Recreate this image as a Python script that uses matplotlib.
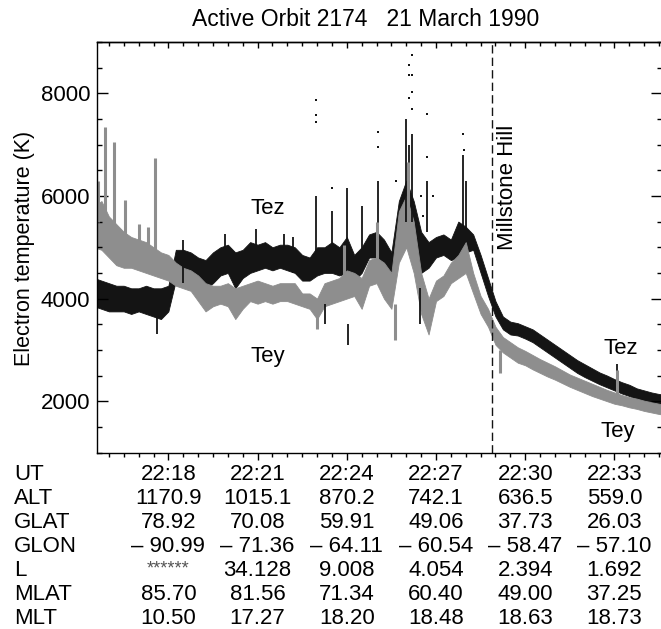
import matplotlib
matplotlib.use("Agg")
import matplotlib.pyplot as plt
from matplotlib.ticker import MultipleLocator
from matplotlib.transforms import blended_transform_factory

plt.rcParams['font.family'] = ['Liberation Sans', 'DejaVu Sans']
plt.rcParams['font.size'] = 16

# UT in minutes after 22:00
ut_min = [15.50, 15.75, 16.00, 16.25, 16.50, 16.75, 17.00, 17.25, 17.50, 17.75,
          18.00, 18.25, 18.50, 18.75, 19.00, 19.25, 19.50, 19.75, 20.00, 20.25,
          20.50, 20.75, 21.00, 21.25, 21.50, 21.75, 22.00, 22.25, 22.50, 22.75,
          23.00, 23.25, 23.50, 23.75, 24.00, 24.25, 24.50, 24.75, 25.00, 25.25,
          25.50, 25.75, 26.00, 26.25, 26.50, 26.75, 27.00, 27.25, 27.50, 27.75,
          28.00, 28.25, 28.50, 28.75, 29.00, 29.25, 29.50, 29.75, 30.00, 30.25,
          30.50, 30.75, 31.00, 31.25, 31.50, 31.75, 32.00, 32.25, 32.50, 32.75,
          33.00, 33.25, 33.50, 33.75, 34.00, 34.25, 34.50, 34.75]

# Tey (grey) scatter band, lower / upper edge (K)
tey_lo = [5000, 4950, 4800, 4650, 4600, 4600, 4550, 4500, 4450, 4400,
          4350, 4250, 4200, 4150, 3950, 3750, 3850, 3900, 3850, 3600,
          3800, 3950, 3900, 3950, 3900, 3950, 3950, 3900, 3850, 3800,
          3600, 3850, 3900, 3950, 4000, 4050, 3800, 4250, 4300, 4000,
          3800, 4700, 5000, 4500, 3700, 3300, 3950, 4050, 4300, 4400,
          4500, 4100, 3700, 3450, 3100, 2950, 2850, 2750, 2700, 2620,
          2550, 2480, 2420, 2350, 2280, 2220, 2160, 2100, 2050, 2000,
          1950, 1920, 1880, 1850, 1810, 1780, 1750, 1730]
tey_hi = [5800, 5900, 5600, 5450, 5300, 5200, 5150, 5100, 5000, 4900,
          4850, 4700, 4600, 4550, 4450, 4300, 4250, 4250, 4300, 4200,
          4250, 4300, 4350, 4300, 4250, 4300, 4300, 4300, 4100, 4100,
          4000, 4300, 4350, 4400, 4550, 4500, 4400, 4750, 4800, 4700,
          4500, 5700, 6000, 5500, 4500, 4000, 4350, 4450, 4700, 4850,
          5100, 4500, 4050, 3800, 3450, 3250, 3150, 3050, 2980, 2900,
          2820, 2750, 2680, 2600, 2520, 2460, 2400, 2340, 2280, 2220,
          2170, 2120, 2080, 2050, 2010, 1980, 1950, 1930]

# Tez (black) scatter band, lower / upper edge (K)
tez_lo = [3850, 3800, 3750, 3750, 3750, 3700, 3750, 3700, 3650, 3600,
          3750, 4350, 4400, 4350, 4300, 4200, 4300, 4450, 4500, 4200,
          4400, 4500, 4550, 4600, 4550, 4600, 4550, 4500, 4350, 4350,
          4450, 4500, 4500, 4450, 4500, 4350, 4500, 4800, 4800, 4650,
          4400, 5000, 5300, 5000, 4500, 4600, 4800, 4850, 4750, 4800,
          4900, 4950, 4500, 4050, 3650, 3400, 3300, 3280, 3220, 3150,
          3050, 2950, 2850, 2750, 2650, 2550, 2470, 2400, 2330, 2270,
          2210, 2150, 2100, 2040, 2000, 1960, 1930, 1910]
tez_hi = [4400, 4350, 4300, 4250, 4250, 4200, 4200, 4250, 4200, 4200,
          4250, 4950, 4950, 4900, 4800, 4750, 4900, 5000, 5050, 4900,
          4950, 5100, 5050, 5100, 5000, 5050, 5050, 5000, 4850, 4800,
          5000, 5000, 5100, 5000, 5200, 4850, 5000, 5250, 5300, 5150,
          4900, 5900, 6300, 5900, 5300, 5100, 5200, 5250, 5150, 5500,
          5400, 5250, 4850, 4400, 3950, 3650, 3550, 3520, 3460, 3400,
          3300, 3200, 3100, 3000, 2900, 2800, 2720, 2640, 2560, 2500,
          2430, 2370, 2320, 2250, 2210, 2170, 2140, 2120]

# short bursts (columns of points)
tez_spike_t = [17.62, 18.50, 19.90, 20.95, 21.90, 22.20, 22.98, 23.26, 23.50,
               24.02, 24.05, 24.50, 25.05, 25.98, 26.08, 26.18, 26.45, 26.70,
               27.90, 28.02, 33.10]
tez_spike_lo = [3300, 4300, 4500, 4600, 4600, 4500, 4800, 3500, 5000,
                5000, 3100, 4900, 5100, 5500, 5800, 5500, 3500, 5300,
                5300, 5200, 2300]
tez_spike_hi = [3800, 5150, 5250, 5350, 5250, 5200, 6000, 3900, 5700,
                6150, 3500, 5800, 6300, 7500, 7000, 7200, 4200, 6300,
                6800, 6300, 2730]
tez_dot_t = [22.98, 22.98, 22.98, 23.50, 25.05, 25.05, 25.67, 26.08, 26.08, 26.08,
             26.19, 26.19, 26.19, 26.19, 26.70, 26.70, 26.90, 27.90, 27.95, 26.50, 26.55]
tez_dot_v = [7870, 7580, 7450, 6150, 7250, 6950, 6300, 8550, 8350, 7900,
             8750, 8350, 8030, 7700, 7600, 6750, 6000, 7200, 6900, 6000, 5600]

tey_spike_t = [15.62, 15.88, 16.18, 16.55, 17.00, 17.30, 17.55, 23.00, 23.90,
               25.00, 25.62, 26.06, 29.15, 33.10]
tey_spike_lo = [5500, 5500, 5300, 5200, 4900, 4900, 4900, 3400, 4300,
                4700, 3200, 5500, 2550, 2100]
tey_spike_hi = [6300, 7350, 7060, 5930, 5450, 5400, 6740, 3800, 5050,
                5500, 3900, 6670, 3000, 2600]

millstone_t = 28.87

# orbit table under the axis
table_t = [18, 21, 24, 27, 30, 33]
row_names = ['UT', 'ALT', 'GLAT', 'GLON', 'L', 'MLAT', 'MLT']
ut_labels = ['22:18', '22:21', '22:24', '22:27', '22:30', '22:33']
alt = ['1170.9', '1015.1', '870.2', '742.1', '636.5', '559.0']
glat = ['78.92', '70.08', '59.91', '49.06', '37.73', '26.03']
glon = ['\u2013 90.99', '\u2013 71.36', '\u2013 64.11', '\u2013 60.54', '\u2013 58.47', '\u2013 57.10']
lshell = ['******', '34.128', '9.008', '4.054', '2.394', '1.692']
mlat = ['85.70', '81.56', '71.34', '60.40', '49.00', '37.25']
mlt = ['10.50', '17.27', '18.20', '18.48', '18.63', '18.73']

black = '#141414'
grey = '#8e8e8e'

W, H = 661, 629
fig = plt.figure(figsize=(W / 100, H / 100), dpi=100)
ax = fig.add_axes([97 / W, 1 - 452.5 / H, 565 / W, 410.5 / H])

ax.fill_between(ut_min, tez_lo, tez_hi, color=black, lw=0.6)
ax.vlines(tez_spike_t, tez_spike_lo, tez_spike_hi, color=black, lw=1.3)
ax.fill_between(ut_min, tey_lo, tey_hi, color=grey, lw=0.6)
ax.vlines(tey_spike_t, tey_spike_lo, tey_spike_hi, color=grey, lw=2.2)
ax.scatter(tez_dot_t, tez_dot_v, s=2.5, marker='s', color=black, lw=0)

ax.axvline(millstone_t, color=black, lw=1.0, linestyle=(0, (6, 3)))
ax.text(millstone_t + 0.52, 6170, 'Millstone Hill', rotation=90, ha='center', va='center')

ax.text(21.35, 5760, 'Tez', ha='center', va='center')
ax.text(21.35, 2880, 'Tey', ha='center', va='center')
ax.text(33.2, 3030, 'Tez', ha='center', va='center')
ax.text(33.1, 1400, 'Tey', ha='center', va='center')

ax.set_xlim(15.6, 34.6)
ax.set_ylim(1000, 9000)
ax.yaxis.set_major_locator(MultipleLocator(2000))
ax.yaxis.set_minor_locator(MultipleLocator(500))
ax.xaxis.set_major_locator(MultipleLocator(3))
ax.xaxis.set_minor_locator(MultipleLocator(0.5))
ax.tick_params(axis='y', which='major', direction='in', length=8, width=1,
               left=True, right=True, pad=5, labelsize=16)
ax.tick_params(axis='y', which='minor', direction='in', length=3.6, width=1,
               left=True, right=True)
ax.tick_params(axis='x', which='major', direction='out', length=5, width=1,
               top=False, labelbottom=False)
ax.tick_params(axis='x', which='minor', direction='out', length=2.8, width=1, top=False)
for sp in ax.spines.values():
    sp.set_linewidth(1.0)

# inward ticks along the top edge
ax_top = ax.secondary_xaxis('top')
ax_top.xaxis.set_major_locator(MultipleLocator(3))
ax_top.xaxis.set_minor_locator(MultipleLocator(0.5))
ax_top.tick_params(which='major', direction='in', length=4.5, width=1, labeltop=False)
ax_top.tick_params(which='minor', direction='in', length=3, width=1)
ax_top.spines['top'].set_linewidth(1.0)

fig.text(25 / W, 1 - 248 / H, 'Electron temperature (K)', rotation=90,
         ha='center', va='center', fontsize=15.5)
fig.text(366 / W, 1 - 20 / H, 'Active Orbit 2174   21 March 1990',
         ha='center', va='center', fontsize=16.5)

# rows placed by their baseline (pixels from the top)
trans = blended_transform_factory(ax.transData, fig.transFigure)
row_base = [480, 504, 528, 552.5, 576.5, 600.5, 624.5]
rows = [ut_labels, alt, glat, glon, lshell, mlat, mlt]
for name, vals, ypx in zip(row_names, rows, row_base):
    fig.text(14 / W, 1 - ypx / H, name, ha='left', va='baseline')
    for t, v in zip(table_t, vals):
        if v.startswith('*'):
            ax.text(t, 1 - (ypx - 3) / H, v, transform=trans, ha='center',
                    va='baseline', fontsize=13, color='#555555')
        else:
            ax.text(t, 1 - ypx / H, v, transform=trans, ha='center', va='baseline')

fig.savefig('out.png', dpi=100)
